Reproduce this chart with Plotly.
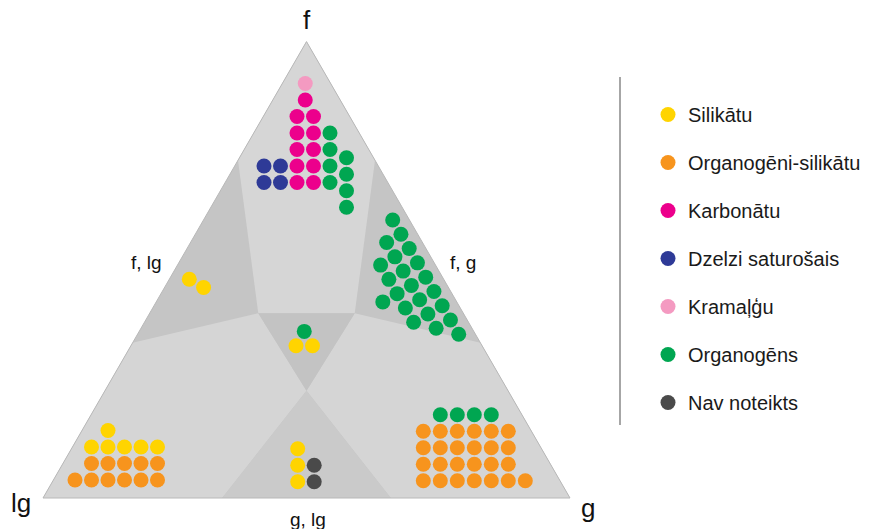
import numpy as np
import plotly.graph_objects as go

# ---- data: number of samples per deposit type in each zone of the f–g–lg triangle
ZONES = ["f", "f, g", "f, lg", "f, g, lg", "lg", "g", "g, lg"]
CATEGORIES = ["Silikātu", "Organogēni-silikātu", "Karbonātu", "Dzelzi saturošais",
              "Kramaļģu", "Organogēns", "Nav noteikts"]
silikatu = [0, 0, 2, 2, 6, 0, 3]
organogeni_silikatu = [0, 0, 0, 0, 11, 25, 0]
karbonatu = [11, 0, 0, 0, 0, 0, 0]
dzelzi_saturosais = [4, 0, 0, 0, 0, 0, 0]
kramalgu = [1, 0, 0, 0, 0, 0, 0]
organogens = [8, 22, 0, 1, 0, 4, 0]
nav_noteikts = [0, 0, 0, 0, 0, 0, 2]
COUNTS = [silikatu, organogeni_silikatu, karbonatu, dzelzi_saturosais,
          kramalgu, organogens, nav_noteikts]
COLORS = ["#FFD400", "#F7941D", "#EC008C", "#2E3A97", "#F49AC1", "#00A651", "#4A4A4A"]

# ---- triangle geometry (f at top, lg bottom-left, g bottom-right)
SIDE = 527.0
H = SIDE * np.sqrt(3) / 2


def tern(f, g, l):
    s = f + g + l
    f, g = f / s, g / s
    return np.array([g * SIDE + f * SIDE / 2, f * H])


V_F, V_G, V_LG = tern(1, 0, 0), tern(0, 1, 0), tern(0, 0, 1)
A, D = tern(0.74, 0, 0.26), tern(0.74, 0.26, 0)
B, C = tern(0.405, 0.206, 0.389), tern(0.405, 0.389, 0.206)
E, Fp = tern(0.34, 0, 0.66), tern(0.34, 0.66, 0)
O = tern(0.235, 0.3825, 0.3825)
P, Q = tern(0, 0.34, 0.66), tern(0, 0.66, 0.34)

ZONE_SHAPES = [
    ([V_F, V_G, V_LG], "#c5c5c5"),          # edge bands f,lg and f,g
    ([V_F, D, C, B, A], "#d6d6d6"),         # f
    ([E, B, O, P, V_LG], "#d5d5d5"),        # lg
    ([Fp, C, O, Q, V_G], "#d5d5d5"),        # g
    ([B, C, O], "#c3c3c3"),                 # f, g, lg
    ([O, Q, P], "#cacaca"),                 # g, lg
]

# ---- dot arrangement inside each zone: anchor, column step, row step, runs
STEP = 16.5
edge_dir = np.array([0.5, -np.sqrt(3) / 2])     # along the f–g side, downwards
in_fg = np.array([-np.sqrt(3) / 2, -0.5])       # into the triangle from the f–g side
in_flg = np.array([np.sqrt(3) / 2, -0.5])       # into the triangle from the f–lg side
sq_u, sq_v = np.array([1.0, 0.0]), np.array([0.0, 1.0])
hex_v = np.array([0.5, np.sqrt(3) / 2])

ZONE_GRID = {
    "f": (np.array([254.0, 315.5]), sq_u, sq_v),
    "f, g": (np.array([349.7, 278.0]), edge_dir, in_fg),
    "f, lg": (np.array([146.3, 218.7]), in_flg, sq_v),
    "f, g, lg": (np.array([253.0, 152.3]), sq_u, hex_v),
    "lg": (np.array([32.0, 18.0]), sq_u, sq_v),
    "g": (np.array([380.3, 17.3]), sq_u * 17.0 / STEP, sq_v),
    "g, lg": (np.array([254.7, 16.3]), sq_u, sq_v),
}
# runs: (i0, j0, di, dj, length)
RUNS = {
    ("f", "Karbonātu"): [(0, 0, 0, 1, 5), (1, 0, 0, 1, 5), (0.5, 5, 0, 1, 1)],
    ("f", "Kramaļģu"): [(0.5, 6, 0, 1, 1)],
    ("f", "Dzelzi saturošais"): [(-2, 0, 1, 0, 2), (-2, 1, 1, 0, 2)],
    ("f", "Organogēns"): [(2, 0, 0, 1, 4), (3, -1.5, 0, 1, 4)],
    ("f, g", "Organogēns"): [(0, 0, 1, 0, 9), (1, 1, 1, 0, 7), (2, 2, 1, 0, 5), (4, 3, 1, 0, 3)],
    ("f, lg", "Silikātu"): [(0, 0, 1, 0, 4)],
    ("f, g, lg", "Silikātu"): [(0, 0, 1, 0, 2)],
    ("f, g, lg", "Organogēns"): [(0, 1, 1, 0, 1)],
    ("lg", "Organogēni-silikātu"): [(0, 0, 1, 0, 6), (1, 1, 1, 0, 5)],
    ("lg", "Silikātu"): [(1, 2, 1, 0, 5), (2, 3, 1, 0, 4)],
    ("g", "Organogēni-silikātu"): [(0, 0, 1, 0, 7), (0, 1, 1, 0, 6), (0, 2, 1, 0, 6), (0, 3, 1, 0, 6)],
    ("g", "Organogēns"): [(1, 4, 1, 0, 5)],
    ("g, lg", "Silikātu"): [(0, 0, 0, 1, 4)],
    ("g, lg", "Nav noteikts"): [(1, 0, 0, 1, 4)],
}


def place(n, zone, cat):
    origin, u, v = ZONE_GRID[zone]
    pts = []
    for i0, j0, di, dj, length in RUNS[(zone, cat)]:
        for k in range(length):
            if len(pts) == n:
                return pts
            pts.append(origin + STEP * ((i0 + k * di) * u + (j0 + k * dj) * v))
    return pts


fig = go.Figure()

for poly, color in ZONE_SHAPES:
    xy = np.array(poly + [poly[0]])
    fig.add_trace(go.Scatter(x=xy[:, 0], y=xy[:, 1], mode="lines", fill="toself",
                             fillcolor=color, line=dict(width=0), hoverinfo="skip",
                             showlegend=False))

outline = np.array([V_F, V_G, V_LG, V_F])
fig.add_trace(go.Scatter(x=outline[:, 0], y=outline[:, 1], mode="lines",
                         line=dict(color="#b8b8b8", width=1), hoverinfo="skip",
                         showlegend=False))

for cat, counts, color in zip(CATEGORIES, COUNTS, COLORS):
    pts = []
    for zone, n in zip(ZONES, counts):
        if n:
            pts += place(n, zone, cat)
    pts = np.array(pts)
    fig.add_trace(go.Scatter(x=pts[:, 0], y=pts[:, 1], mode="markers", name=cat,
                             legendgroup=cat,
                             marker=dict(size=15, color=color, line=dict(width=0))))

FONT = "Liberation Sans, Arial, sans-serif"
labels = [
    ("f", V_F + [0, 22], 26), ("lg", V_LG + [-22, -5], 26), ("g", V_G + [18, -10], 26),
    ("f, lg", tern(0.5, 0, 0.5) + [-28, 7], 19),
    ("f, g", tern(0.5, 0.5, 0) + [25, 7], 19),
    ("g, lg", tern(0, 0.5, 0.5) + [1, -21], 19),
]
for text, (x, y), size in labels:
    fig.add_annotation(x=x, y=y, text=text, showarrow=False,
                       font=dict(family=FONT, size=size, color="#111"))

fig.add_shape(type="line", x0=577, x1=577, y0=73, y1=421,
              line=dict(color="#a6a6a6", width=2))

fig.update_layout(
    width=872, height=529, margin=dict(l=0, r=0, t=0, b=0),
    paper_bgcolor="white", plot_bgcolor="white",
    xaxis=dict(range=[-43, 829], visible=False, fixedrange=True),
    yaxis=dict(range=[-31, 498], visible=False, fixedrange=True),
    legend=dict(x=648 / 872, xanchor="left", y=1 - 95 / 529, yanchor="top",
                font=dict(family=FONT, size=20, color="#1a1a1a"),
                tracegroupgap=19, itemsizing="trace", bgcolor="rgba(0,0,0,0)"),
)

fig.write_html("out.html")
